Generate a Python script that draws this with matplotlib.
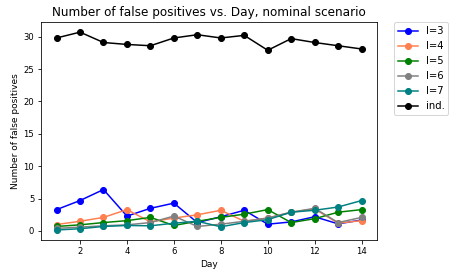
import matplotlib
matplotlib.use('Agg')
import matplotlib.pyplot as plt

days = list(range(1, 15))

fp_l3 = [3.3, 4.7, 6.4, 2.3, 3.5, 4.3, 1.3, 2.2, 3.2, 1.05, 1.4, 2.2, 1.1, 1.7]
fp_l4 = [1.0, 1.5, 2.1, 3.3, 1.4, 2.0, 2.5, 3.2, 1.5, 2.0, 2.9, 3.4, 1.2, 1.6]
fp_l5 = [0.7, 0.95, 1.3, 1.6, 2.1, 0.85, 1.5, 2.1, 2.6, 3.3, 1.3, 1.9, 2.9, 3.3]
fp_l6 = [0.4, 0.6, 0.8, 0.95, 1.3, 2.3, 0.7, 1.05, 1.5, 2.0, 2.9, 3.5, 1.3, 2.1]
fp_l7 = [0.15, 0.35, 0.7, 0.85, 0.8, 1.2, 1.5, 0.65, 1.3, 1.75, 2.9, 3.2, 3.7, 4.7]
fp_ind = [29.8, 30.7, 29.1, 28.8, 28.6, 29.8, 30.3, 29.8, 30.2, 27.9, 29.7, 29.1, 28.6, 28.1]

series = [('l=3', fp_l3, 'blue'), ('l=4', fp_l4, 'coral'), ('l=5', fp_l5, 'green'),
          ('l=6', fp_l6, 'gray'), ('l=7', fp_l7, 'teal'), ('ind.', fp_ind, 'black')]

fig, ax = plt.subplots(figsize=(454 / 72, 278 / 72), dpi=72)
for name, vals, c in series:
    ax.plot(days, vals, marker='o', markersize=6, color=c, label=name)

ax.set_xticks([2, 4, 6, 8, 10, 12, 14])
ax.set_xlabel('Day', fontsize=9)
ax.set_ylabel('Number of false positives', fontsize=9)
ax.set_title('Number of false positives vs. Day, nominal scenario', fontsize=12)
ax.tick_params(labelsize=8.5)
ax.legend(bbox_to_anchor=(1.05, 1.0), loc='upper left', borderaxespad=0, fontsize=10)
fig.subplots_adjust(left=0.091, right=0.830, top=0.920, bottom=0.137)
fig.savefig('out.png', dpi=72)
